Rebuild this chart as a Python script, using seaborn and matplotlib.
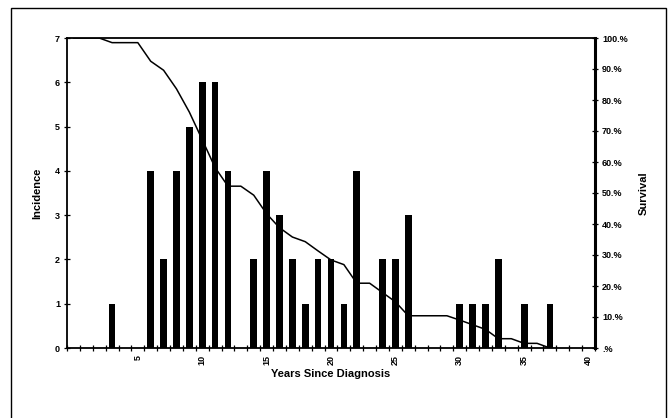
import numpy as np
import pandas as pd
import matplotlib
matplotlib.use('Agg')
import matplotlib.pyplot as plt
from matplotlib.patches import Rectangle
from matplotlib.ticker import FixedLocator, FixedFormatter
import seaborn as sns

# Years 0..40 on the category axis
years = list(range(0, 41))

# Incidence per year (bars)
incidence = [0, 0, 0, 1, 0, 0, 4, 2, 4, 5,
             6, 6, 4, 0, 2, 4, 3, 2, 1, 2,
             2, 1, 4, 0, 2, 2, 3, 0, 0, 0,
             1, 1, 1, 2, 0, 1, 0, 1, 0, 0,
             0]

# Survival curve (%), years 0..37
surv_years = list(range(0, 38))
survival = [100, 100, 100, 98.5, 98.5, 98.5, 92.5, 89.6, 83.6, 76.1,
            67.2, 58.2, 52.2, 52.2, 49.3, 43.3, 38.8, 35.8, 34.3, 31.3,
            28.4, 26.9, 20.9, 20.9, 17.9, 14.9, 10.4, 10.4, 10.4, 10.4,
            9.0, 7.5, 6.0, 3.0, 3.0, 1.5, 1.5, 0.0]

surv_ticks = [0, 10, 20, 30, 40, 50, 60, 70, 80, 90, 100]
surv_labels = ['.%', '10.%', '20.%', '30.%', '40.%', '50.%',
               '60.%', '70.%', '80.%', '90.%', '100.%']

sns.set_style('white')
plt.rcParams['font.family'] = ['Liberation Sans', 'DejaVu Sans']
plt.rcParams['font.weight'] = 'bold'
plt.rcParams['text.color'] = 'black'
plt.rcParams['axes.labelcolor'] = 'black'
plt.rcParams['xtick.color'] = 'black'
plt.rcParams['ytick.color'] = 'black'

fig = plt.figure(figsize=(6.69, 4.18), dpi=100)
ax = fig.add_axes([67 / 669, 70 / 418, 528 / 669, 310 / 418])

bars = pd.DataFrame({'year': years, 'incidence': incidence})
sns.barplot(data=bars, x='year', y='incidence', order=years, color='black',
            width=0.52, saturation=1, ax=ax, linewidth=0)

ax.set_xlim(-0.5, 40.5)
ax.set_ylim(0, 7)
ax.set_yticks(range(0, 8))
ax.set_yticklabels([str(v) for v in range(0, 8)], fontsize=6.5, fontweight='bold')

# labels at every 5th year, tick marks at category boundaries
lab_pos = list(range(5, 41, 5))
ax.xaxis.set_major_locator(FixedLocator(lab_pos))
ax.xaxis.set_major_formatter(FixedFormatter([str(v) for v in lab_pos]))
ax.xaxis.set_minor_locator(FixedLocator(np.arange(-0.5, 41, 1)))
ax.tick_params(axis='x', which='major', length=0, pad=5, labelsize=6.5, rotation=90)
ax.tick_params(axis='x', which='minor', length=4, width=0.9, direction='inout',
               bottom=True, color='black')
ax.tick_params(axis='y', length=4, width=0.9, direction='inout', left=True,
               color='black', pad=3)

ax.set_xlabel('Years Since Diagnosis', fontsize=8, fontweight='bold', labelpad=3)
ax.set_ylabel('Incidence', fontsize=8, fontweight='bold', labelpad=9)

for side in ['left', 'bottom', 'top']:
    ax.spines[side].set_visible(True)
    ax.spines[side].set_color('black')
    ax.spines[side].set_linewidth(1.3)
ax.spines['right'].set_visible(False)

ax2 = ax.twinx()
sns.lineplot(x=surv_years, y=survival, ax=ax2, color='black', linewidth=1.1)
ax2.set_xlim(-0.5, 40.5)
ax2.set_ylim(0, 100)
ax2.set_yticks(surv_ticks)
ax2.set_yticklabels(surv_labels, fontsize=6.5, fontweight='bold')
ax2.tick_params(axis='y', length=4, width=0.9, direction='inout', right=True,
                color='black', pad=3)
ax2.set_ylabel('Survival', fontsize=8, fontweight='bold', labelpad=8)
for side in ['left', 'bottom', 'top']:
    ax2.spines[side].set_visible(False)
ax2.spines['right'].set_visible(True)
ax2.spines['right'].set_color('black')
ax2.spines['right'].set_linewidth(2.2)

# outer frame of the scanned figure
fig.patches.append(Rectangle((11 / 669, -0.02), 655 / 669, 1.02 - 8 / 418,
                             transform=fig.transFigure, fill=False,
                             edgecolor='black', linewidth=1.0))

fig.savefig('out.png', dpi=100)
plt.close()
